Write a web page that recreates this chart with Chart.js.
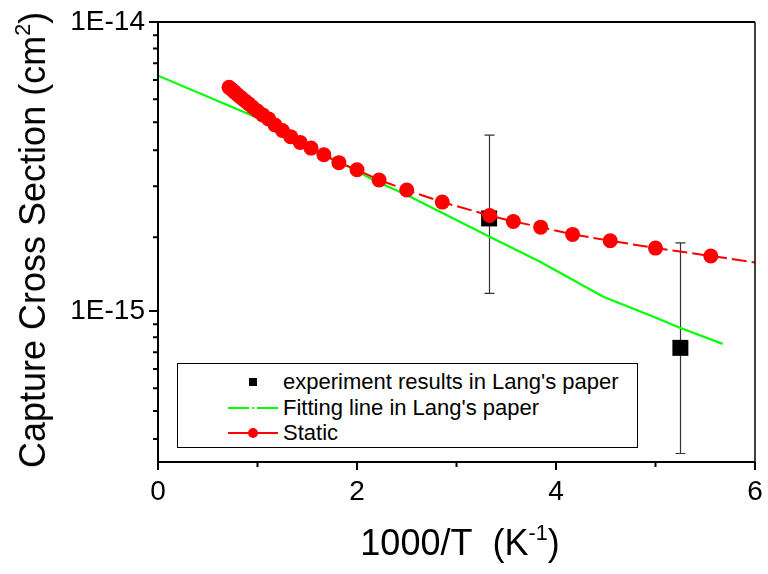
<!DOCTYPE html>
<html>
<head>
<meta charset="utf-8">
<script src="https://cdn.jsdelivr.net/npm/chart.js@4"></script>
<style>
	body { margin: 0; background: #fff; }
	#wrap { position: relative; width: 768px; height: 574px; font-family: Arial, "Liberation Sans", sans-serif; }
	#chartContainer { position: absolute; left: 0; top: 0; width: 768px; height: 574px; }
	.ytitle { position: absolute; left: 33px; top: 240px; transform: translate(-50%, -50%) rotate(-90deg); font-size: 36px; white-space: nowrap; color: #000; line-height: 36px; }
	.xtitle { position: absolute; left: 460px; top: 543px; transform: translate(-50%, -50%); font-size: 36px; white-space: nowrap; color: #000; line-height: 36px; }
	sup { font-size: 0.6em; vertical-align: 0.7em; line-height: 0; }
	#legend { position: absolute; left: 177px; top: 363px; width: 459px; height: 83px; border: 1px solid #000; background: #fff; font-size: 22px; }
	.row { position: absolute; left: 0; height: 26px; width: 100%; }
	.row svg { position: absolute; left: 48px; top: 0; }
	.row span { position: absolute; left: 105px; top: 0; line-height: 26px; white-space: nowrap; }
</style>
</head>
<body>
<div id="wrap">
	<div id="chartContainer"><canvas id="capChart"></canvas></div>
	<div class="ytitle">Capture Cross Section (cm<sup>2</sup>)</div>
	<div class="xtitle">1000/T&nbsp;&nbsp;(K<sup>-1</sup>)</div>
	<div id="legend">
		<div class="row" style="top:5px">
			<svg width="54" height="26"><rect x="23" y="9" width="8" height="8" fill="#000"/></svg>
			<span>experiment results in Lang's paper</span>
		</div>
		<div class="row" style="top:31px">
			<svg width="54" height="26"><line x1="2" y1="13" x2="52" y2="13" stroke="#00ff00" stroke-width="2" stroke-dasharray="21,3,2,3,21"/></svg>
			<span>Fitting line in Lang's paper</span>
		</div>
		<div class="row" style="top:56px">
			<svg width="54" height="26"><line x1="2" y1="13" x2="52" y2="13" stroke="#ff0000" stroke-width="2"/><circle cx="27" cy="13" r="5" fill="#ff0000"/></svg>
			<span>Static</span>
		</div>
	</div>
</div>
<script>
// values
const staticX = [0.714, 0.741, 0.769, 0.8, 0.833, 0.87, 0.909, 0.952, 1.0, 1.053, 1.111, 1.176, 1.25, 1.333, 1.429, 1.538, 1.667, 1.818, 2.0, 2.222, 2.5, 2.857, 3.333, 3.571, 3.846, 4.167, 4.545, 5.0, 5.556, 6.25];
const staticY = [5.94e-15, 5.84e-15, 5.73e-15, 5.60e-15, 5.48e-15, 5.35e-15, 5.22e-15, 5.07e-15, 4.92e-15, 4.77e-15, 4.62e-15, 4.40e-15, 4.21e-15, 4.01e-15, 3.83e-15, 3.66e-15, 3.47e-15, 3.26e-15, 3.08e-15, 2.84e-15, 2.62e-15, 2.38e-15, 2.14e-15, 2.04e-15, 1.95e-15, 1.84e-15, 1.75e-15, 1.65e-15, 1.55e-15, 1.43e-15];

const fitX = [0, 0.975, 1.243, 1.51, 1.947, 2.164, 2.5, 3.327, 3.84, 4.475, 4.98, 5.246, 5.675];
const fitY = [6.52e-15, 4.70e-15, 4.23e-15, 3.68e-15, 3.12e-15, 2.84e-15, 2.52e-15, 1.81e-15, 1.48e-15, 1.12e-15, 9.55e-16, 8.75e-16, 7.69e-16];

const expX = [3.328, 5.25];
const expY = [2.09e-15, 7.45e-16];
const expHigh = [4.06e-15, 1.72e-15];
const expLow = [1.15e-15, 3.21e-16];

const xMajorTicks = [0, 2, 4, 6];
const xMinorTicks = [1, 3, 5];
const yMajorTicks = [1e-15, 1e-14];
const yMinorTicks = [3.6e-16, 4.5e-16, 5.4e-16, 6.3e-16, 7.2e-16, 8.1e-16, 9e-16, 1.8e-15, 2.7e-15, 3.6e-15, 4.5e-15, 5.4e-15, 6.3e-15, 7.2e-15, 8.1e-15, 9e-15];

const toPoints = (xs, ys) => xs.map((x, i) => ({ x: x, y: ys[i] }));

// error bars, axis box and tick marks
const framePlugin = {
	id: 'frame',
	beforeDatasetsDraw(chart) {
		const { ctx, scales: { x, y } } = chart;
		ctx.save();
		ctx.strokeStyle = '#333';
		ctx.lineWidth = 1.2;
		expX.forEach((v, i) => {
			const px = Math.round(x.getPixelForValue(v)) + 0.5;
			const top = y.getPixelForValue(expHigh[i]);
			const bot = y.getPixelForValue(expLow[i]);
			ctx.beginPath();
			ctx.moveTo(px, top); ctx.lineTo(px, bot);
			ctx.moveTo(px - 5, top); ctx.lineTo(px + 5, top);
			ctx.moveTo(px - 5, bot); ctx.lineTo(px + 5, bot);
			ctx.stroke();
		});
		ctx.restore();
	},
	afterDraw(chart) {
		const { ctx, chartArea: a, scales: { x, y } } = chart;
		ctx.save();
		ctx.strokeStyle = '#000';
		ctx.lineWidth = 2;
		ctx.beginPath();
		ctx.moveTo(a.left, a.top); ctx.lineTo(a.left, a.bottom); ctx.lineTo(a.right, a.bottom);
		ctx.moveTo(a.left, a.top); ctx.lineTo(a.right, a.top);
		ctx.stroke();
		ctx.lineWidth = 1.5;
		ctx.beginPath();
		ctx.moveTo(a.right, a.top); ctx.lineTo(a.right, a.bottom);
		ctx.stroke();

		ctx.lineWidth = 2;
		ctx.beginPath();
		yMajorTicks.forEach(v => { const py = y.getPixelForValue(v); ctx.moveTo(a.left, py); ctx.lineTo(a.left - 9, py); });
		yMinorTicks.forEach(v => { const py = y.getPixelForValue(v); ctx.moveTo(a.left, py); ctx.lineTo(a.left - 5, py); });
		xMajorTicks.forEach(v => { const px = x.getPixelForValue(v); ctx.moveTo(px, a.bottom); ctx.lineTo(px, a.bottom + 8); });
		xMinorTicks.forEach(v => { const px = x.getPixelForValue(v); ctx.moveTo(px, a.bottom); ctx.lineTo(px, a.bottom + 5); });
		ctx.stroke();
		ctx.restore();
	}
};

const ctx = document.getElementById('capChart').getContext('2d');
new Chart(ctx, {
	type: 'scatter',
	data: {
		datasets: [
			{
				label: 'Static',
				data: toPoints(staticX, staticY),
				showLine: true,
				borderColor: '#ff0000',
				borderWidth: 2,
				borderDash: [15, 5],
				backgroundColor: '#ff0000',
				pointRadius: 7.5,
				pointBorderWidth: 0,
				order: 1
			},
			{
				label: "Fitting line in Lang's paper",
				data: toPoints(fitX, fitY),
				showLine: true,
				borderColor: '#00ff00',
				borderWidth: 2.2,
				pointRadius: 0,
				order: 2
			},
			{
				label: "experiment results in Lang's paper",
				data: toPoints(expX, expY),
				pointStyle: 'rect',
				pointRadius: 11.3,
				pointBorderWidth: 0,
				backgroundColor: '#000',
				order: 3
			}
		]
	},
	options: {
		responsive: true,
		maintainAspectRatio: false,
		animation: false,
		layout: { padding: { left: 0, right: 13, top: 22, bottom: 0 } },
		plugins: { legend: { display: false }, tooltip: { enabled: false } },
		scales: {
			x: {
				type: 'linear',
				min: 0,
				max: 6,
				grid: { display: false, drawTicks: false },
				border: { display: false },
				afterBuildTicks: s => { s.ticks = xMajorTicks.map(v => ({ value: v })); },
				afterFit: s => { s.height = 112; s.paddingLeft = 0; s.paddingRight = 0; },
				ticks: {
					color: '#000',
					padding: 13,
					font: { family: 'Arial, "Liberation Sans", sans-serif', size: 28 },
					maxRotation: 0
				}
			},
			y: {
				type: 'logarithmic',
				min: 3e-16,
				max: 1e-14,
				grid: { display: false, drawTicks: false },
				border: { display: false },
				afterBuildTicks: s => { s.ticks = yMajorTicks.map(v => ({ value: v })); },
				afterFit: s => { s.width = 158; s.paddingTop = 0; s.paddingBottom = 0; },
				ticks: {
					color: '#000',
					padding: 13,
					font: { family: 'Arial, "Liberation Sans", sans-serif', size: 28 },
					callback: v => '1E' + Math.round(Math.log10(v))
				}
			}
		}
	},
	plugins: [framePlugin]
});
</script>
</body>
</html>
